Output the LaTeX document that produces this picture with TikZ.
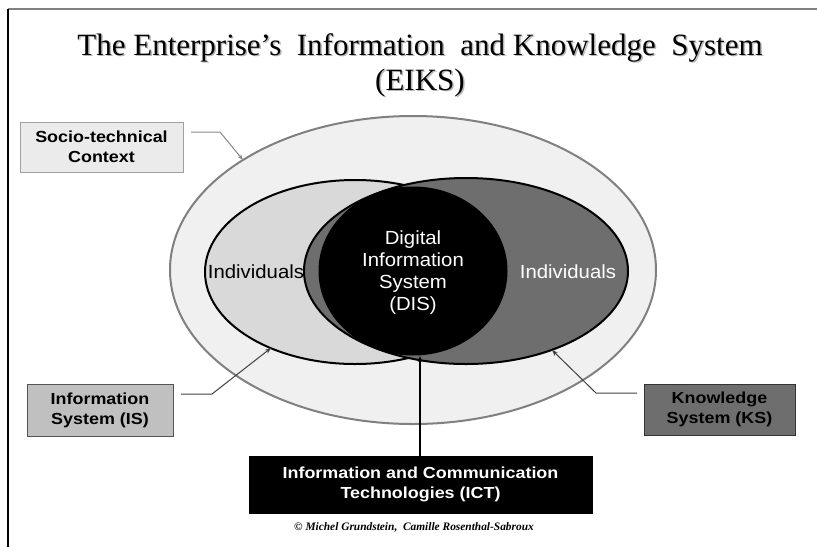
\documentclass[tikz,border=0pt]{standalone}
\usepackage{fontspec}
\setmainfont{Liberation Serif}
\newfontfamily\sansx[FakeStretch=1.07]{Liberation Sans}
\newfontfamily\boxfont[FakeStretch=1.12]{Liberation Sans}
\usetikzlibrary{shapes.geometric,arrows.meta}
\definecolor{ctxfill}{HTML}{F0F0F0}
\definecolor{ctxline}{HTML}{808080}
\definecolor{isfill}{HTML}{D9D9D9}
\definecolor{ksfill}{HTML}{6E6E6E}
\definecolor{sociofill}{HTML}{EBEBEB}
\definecolor{sociodraw}{HTML}{A0A0A0}
\definecolor{isboxfill}{HTML}{C0C0C0}
\definecolor{isboxdraw}{HTML}{555555}
\definecolor{ksboxfill}{HTML}{6E6E6E}
\definecolor{ksboxdraw}{HTML}{333333}
\definecolor{connA}{HTML}{888888}
\definecolor{connB}{HTML}{404040}
\definecolor{shadowgray}{HTML}{B8B8B8}
\begin{document}
\begin{tikzpicture}[x=1pt,y=-1pt,
  every node/.style={inner sep=0pt,outer sep=0pt},
  ell/.style={ellipse,line width=2pt},
  boxlbl/.style={font=\boxfont\bfseries\fontsize{16}{20}\selectfont,align=center,line width=1pt},
  sanstext/.style={font=\sansx\fontsize{19}{22}\selectfont,align=center},
  conn/.style={line width=1pt,-{Stealth[length=6pt,width=4.5pt]}},
  titlefont/.style={font=\fontsize{31}{35}\selectfont,align=center}
]
\useasboundingbox (0,0) rectangle (817,547);
% frame
\draw[ctxline,line width=2pt] (8,9) -- (817,9);
\draw[black,line width=1.2pt] (8,9) -- (8,547);
% title
\node[titlefont,text=shadowgray] (titleshadow) at (421.5,66.5) {The Enterprise's\ \ Information\ \ and Knowledge\ \ System\\(EIKS)};
\node[titlefont] (title) at (420,65) {The Enterprise's\ \ Information\ \ and Knowledge\ \ System\\(EIKS)};
% ellipses
\node[ell,draw=ctxline,fill=ctxfill,minimum width=486,minimum height=308] (ctx) at (413,270) {};
\node[ell,draw=black,fill=isfill,minimum width=300,minimum height=184] (is) at (355,272) {};
\node[ell,draw=black,fill=ksfill,minimum width=324,minimum height=186] (ks) at (466,271) {};
\node[ell,draw=black,fill=black,line width=1pt,minimum width=188,minimum height=168] (dis) at (413,271) {};
% texts
\node[sanstext] (indl) at (256,272) {Individuals};
\node[sanstext,text=white] (indr) at (568,272) {Individuals};
\node[sanstext,text=white] (distext) at (413,273) {Digital\\Information\\System\\(DIS)};
% boxes
\node[boxlbl,draw=sociodraw,fill=sociofill,minimum width=163,minimum height=50] (socio) at (101.5,147) {Socio-technical\\Context};
\node[boxlbl,draw=isboxdraw,fill=isboxfill,minimum width=146,minimum height=52] (isbox) at (100,410) {Information\\System (IS)};
\node[boxlbl,draw=ksboxdraw,fill=ksboxfill,minimum width=151,minimum height=51] (ksbox) at (719.5,409.5) {Knowledge\\System (KS)};
\node[boxlbl,draw=black,fill=black,text=white,minimum width=343,minimum height=57] (ict) at (420.5,484.5) {Information and Communication\\Technologies (ICT)};
% connector coordinates
\coordinate (s1) at (191,132);
\coordinate (s2) at (220,132);
\coordinate (stip) at (243,160);
\coordinate (i1) at (181,394);
\coordinate (i2) at (212,394);
\coordinate (itip) at (271,348);
\coordinate (k1) at (637,393);
\coordinate (k2) at (596,393);
\coordinate (ktip) at (552,350);
\coordinate (dtip) at (420,356);
\draw[conn,connA] (s1) -- (s2) -- (stip);
\draw[conn,connB] (i1) -- (i2) -- (itip);
\draw[conn,connB] (k1) -- (k2) -- (ktip);
\draw[conn,black,line width=1.6pt] (ict.north -| dtip) -- (dtip);
% copyright
\node[font=\bfseries\itshape\fontsize{11.4}{13}\selectfont] (copy) at (414,527) {\textcopyright\ Michel Grundstein,\ \ Camille Rosenthal-Sabroux};
\end{tikzpicture}
\end{document}
